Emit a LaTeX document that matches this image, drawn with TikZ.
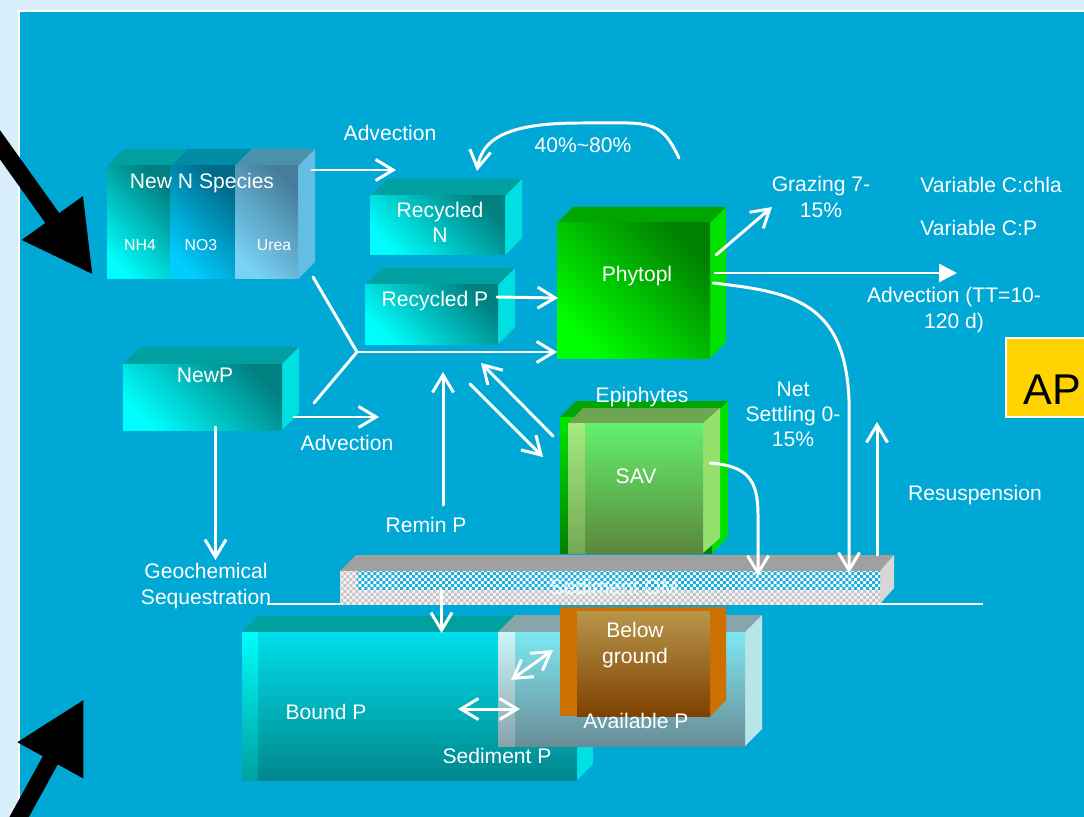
\documentclass[tikz,border=0pt]{standalone}
\usepackage{fontspec}
\setmainfont{Liberation Sans}
\usetikzlibrary{arrows.meta,patterns}

\definecolor{bgout}{RGB}{216,238,251}
\definecolor{bgblue}{RGB}{0,168,214}
\definecolor{cyanlt}{RGB}{0,252,252}
\definecolor{tealdk}{RGB}{0,128,128}
\definecolor{tealtop}{RGB}{0,160,160}
\definecolor{cyanside}{RGB}{0,224,226}
\definecolor{notop}{RGB}{0,140,165}
\definecolor{nodk}{RGB}{0,105,135}
\definecolor{nolt}{RGB}{0,205,255}
\definecolor{ureatop}{RGB}{75,145,170}
\definecolor{ureadk}{RGB}{70,125,155}
\definecolor{urealt}{RGB}{120,210,245}
\definecolor{ureaside}{RGB}{100,190,228}
\definecolor{grdk}{RGB}{0,128,0}
\definecolor{grlt}{RGB}{0,255,0}
\definecolor{grtop}{RGB}{0,165,0}
\definecolor{grside}{RGB}{0,225,0}
\definecolor{savtop}{RGB}{110,165,80}
\definecolor{savlt}{RGB}{100,240,110}
\definecolor{savdk}{RGB}{90,135,60}
\definecolor{savside}{RGB}{150,225,110}
\definecolor{savstrlt}{RGB}{165,235,125}
\definecolor{savstrdk}{RGB}{115,170,85}
\definecolor{slabtop}{RGB}{160,160,160}
\definecolor{slabside}{RGB}{215,215,215}
\definecolor{chkblue}{RGB}{30,175,220}
\definecolor{sedtop}{RGB}{0,222,236}
\definecolor{seddk}{RGB}{0,135,140}
\definecolor{avtop}{RGB}{135,165,170}
\definecolor{avlt}{RGB}{125,232,242}
\definecolor{avdk}{RGB}{105,140,150}
\definecolor{avside}{RGB}{185,228,232}
\definecolor{bgorange}{RGB}{204,112,0}
\definecolor{bglt}{RGB}{185,150,75}
\definecolor{bgdk}{RGB}{125,65,0}
\definecolor{apyellow}{RGB}{255,210,0}

% fine checks for the sediment layer
\pgfdeclarepatternformonly{finechk}{\pgfqpoint{-0.1pt}{-0.1pt}}{\pgfqpoint{3.5pt}{3.5pt}}{\pgfqpoint{3.4pt}{3.4pt}}{%
  \pgfpathrectangle{\pgfqpoint{0pt}{0pt}}{\pgfqpoint{1.7pt}{1.7pt}}%
  \pgfpathrectangle{\pgfqpoint{1.7pt}{1.7pt}}{\pgfqpoint{1.7pt}{1.7pt}}%
  \pgfusepath{fill}}

% 3d box: name, x1, y1, x2, y2, depth, front options, top colour, side colour
\newcommand{\mkcube}[9]{%
  \fill[#8] (#2,#3) -- (#2+#6,#3-#6) -- (#4+#6,#3-#6) -- (#4,#3) -- cycle;
  \fill[#9] (#4,#3) -- (#4+#6,#3-#6) -- (#4+#6,#5-#6) -- (#4,#5) -- cycle;
  \node[front, #7, minimum width={(#4-#2)*0.02cm}, minimum height={(#5-#3)*0.02cm}] (#1) at ({(#2+#4)/2},{(#3+#5)/2}) {};
}

\begin{document}
\begin{tikzpicture}[x=0.02cm, y=-0.02cm,
    txt/.style={text=white, font=\fontsize{12}{14.3}\selectfont, inner sep=0pt, align=center},
    small/.style={text=white, font=\fontsize{9}{11}\selectfont, inner sep=0pt},
    front/.style={rectangle, inner sep=0pt, outer sep=0pt},
    wline/.style={draw=white, line width=1.7pt, line cap=round},
    warr/.style={wline, -{Straight Barb[length=10pt,width=12pt]}},
    dwarr/.style={wline, {Straight Barb[length=10pt,width=12pt]}-{Straight Barb[length=10pt,width=12pt]}},
    bigarr/.style={line width=0.34cm, -{Triangle[length=1.4cm,width=1.4cm]}}]
    \useasboundingbox (0,0) rectangle (1084,817);
    \fill[bgout] (0,0) rectangle (1084,817);
    \fill[bgblue] (19,11) rectangle (1084,817);
    \draw[white, line width=0.6pt] (19,817) -- (19,11) -- (1084,11);
    % big input arrows
    \coordinate (inA) at (-12,128); \coordinate (inB) at (93,275);
    \coordinate (inC) at (12,830); \coordinate (inD) at (84,699);
    \draw[bigarr] (inA) -- (inB);
    \draw[bigarr] (inC) -- (inD);
    % water column boxes
    \mkcube{nh4}{107}{166}{170}{279}{17}{top color=tealdk, bottom color=cyanlt, shading angle=-45}{tealtop}{cyanside}
    \mkcube{no3}{170}{166}{235}{279}{17}{top color=nodk, bottom color=nolt, shading angle=-45}{notop}{nolt}
    \mkcube{urea}{235}{166}{298}{279}{17}{top color=ureadk, bottom color=urealt, shading angle=-45}{ureatop}{ureaside}
    \mkcube{recN}{370}{196}{505}{255}{17}{top color=tealdk, bottom color=cyanlt, shading angle=-45}{tealtop}{cyanside}
    \mkcube{recP}{365}{285}{498}{344}{17}{top color=tealdk, bottom color=cyanlt, shading angle=-45}{tealtop}{cyanside}
    \mkcube{newP}{123}{364}{282}{430}{17}{top color=tealdk, bottom color=cyanlt, shading angle=-45}{tealtop}{cyanside}
    \mkcube{phyto}{557}{223}{710}{358}{16}{top color=grdk, bottom color=grlt, shading angle=-45}{grtop}{grside}
    % SAV with epiphytes
    \mkcube{sav}{560}{417}{712}{553}{16}{top color=grlt!90!black, bottom color=grdk}{grtop}{grside}
    \fill[savtop] (568,423) -- (583,408) -- (720,408) -- (703,423) -- cycle;
    \fill[savside] (703,423) -- (720,408) -- (720,538) -- (703,553) -- cycle;
    \shade[top color=savlt, bottom color=savdk] (568,423) rectangle (703,553);
    \shade[top color=savstrlt, bottom color=savstrdk] (568,423) rectangle (585,553);
    % sediment surface
    \draw[white, line width=0.6pt] (267,604) -- (983,604);
    \fill[slabtop] (340,571) -- (356,555) -- (894,555) -- (880,571) -- cycle;
    \fill[slabside] (880,571) -- (894,555) -- (894,588) -- (880,604) -- cycle;
    \node[front, fill=gray!8, postaction={pattern=finechk, pattern color=gray!45},
      minimum width=10.8cm, minimum height=0.66cm] (slab) at (610,587.5) {};
    \fill[white, postaction={pattern=finechk, pattern color=chkblue}] (357,571) rectangle (880,589);
    % sediment boxes
    \mkcube{sedP}{242}{632}{577}{780}{16}{top color=sedtop, bottom color=seddk}{tealtop}{cyanside}
    \shade[top color=cyanlt, bottom color=tealtop] (242,632) rectangle (258,780);
    \mkcube{availP}{498}{632}{745}{746}{17}{top color=avlt, bottom color=avdk}{avtop}{avside}
    \shade[top color=avlt!40!white, bottom color=avdk!80!white] (498,632) rectangle (515,746);
    \node[front, fill=bgorange, minimum width=3.02cm, minimum height=2.18cm] (below) at (635.5,661.5) {};
    \shade[top color=bglt, bottom color=bgdk] (577,611) rectangle (710,716);
    \fill[bgorange] (711,607) -- (726,607) -- (726,700) -- (711,716) -- cycle;
    % labels
    \node[txt] (tAdvN) at (390,133) {Advection};
    \node[txt] (tLoop) at (583,145) {40\%\textasciitilde80\%};
    \node[txt] (tNewN) at (202,183) {New N Species};
    \node[small] (tNH4) at (140,245) {NH4};
    \node[small] (tNO3) at (201,245) {NO3};
    \node[small] (tUrea) at (274,245) {Urea};
    \node[txt] (tRecN) at (440,222) {Recycled\\N};
    \node[txt] (tRecP) at (435,301) {Recycled P};
    \node[txt] (tPhyto) at (637,276) {Phytopl};
    \node[txt] (tGraz) at (821,197) {Grazing 7-\\15\%};
    \node[txt, anchor=west] (tVarChl) at (920,185) {Variable C:chla};
    \node[txt, anchor=west] (tVarCP) at (920,228) {Variable C:P};
    \node[txt] (tAdvOut) at (954,310) {Advection (TT=10-\\120 d)};
    \node[txt] (tNewP) at (205,375) {NewP};
    \node[txt] (tAdvP) at (347,443) {Advection};
    \node[txt] (tEpi) at (642,397) {Epiphytes};
    \node[txt] (tNet) at (793,414) {Net\\Settling 0-\\15\%};
    \node[txt] (tSAV) at (636,476) {SAV};
    \node[txt] (tResus) at (975,495) {Resuspension};
    \node[txt] (tRemin) at (426,525) {Remin P};
    \node[txt] (tGeo) at (206,586) {Geochemical\\Sequestration};
    \node[txt, opacity=0.75] (tOM) at (614,587) {Sediment OM};
    \node[txt] (tBelow) at (635,645) {Below\\ground};
    \node[txt] (tBound) at (326,712) {Bound P};
    \node[txt] (tAvail) at (636,721) {Available P};
    \node[txt] (tSedP) at (497,756) {Sediment P};
    \fill[apyellow, draw=white, line width=0.6pt] (1006,338) rectangle (1100,417);
    \node[anchor=base west, inner sep=0pt, font=\fontsize{24.5}{28}\selectfont] (tAP) at (1023,404) {AP};
    % free ends
    \coordinate (advNend) at (396,170);
    \coordinate (loopS) at (679,158); \coordinate (loopE) at (477,171);
    \coordinate (join) at (357,352);
    \coordinate (advPend) at (379,417);
    \coordinate (reminS) at (443,505); \coordinate (reminE) at (443,372);
    \coordinate (xA) at (470,384); \coordinate (xB) at (543,457);
    \coordinate (xC) at (553,436); \coordinate (xD) at (481,363);
    \coordinate (grazE) at (772,207);
    \coordinate (advOutE) at (957,273);
    \coordinate (settleE) at (849,573);
    \coordinate (resS) at (877,555); \coordinate (resE) at (877,422);
    \coordinate (savE) at (758,576);
    \coordinate (geoE) at (215.5,560);
    \coordinate (bxA) at (458,709); \coordinate (bxB) at (520,709);
    \coordinate (bxC) at (511,680); \coordinate (bxD) at (553,650);
    % fluxes
    \draw[warr] ([shift={(14,4)}]urea.north east) -- (advNend);
    \draw[warr] (loopS) .. controls (660,118) and (650,123) .. (580,123) .. controls (505,123) and (482,140) .. (loopE);
    \draw[warr] ([shift={(-1,12)}]recP.north east) -- ([shift={(1,75)}]phyto.north west);
    \draw[wline] ([shift={(15,-2)}]urea.south east) -- (join) -- ([shift={(32,39)}]newP.north east);
    \draw[warr] (join) -- (join -| phyto.west);
    \draw[warr] ([shift={(12,-13)}]newP.south east) -- (advPend);
    \draw[warr] (reminS) -- (reminE);
    \draw[warr] (xA) -- (xB);
    \draw[warr] (xC) -- (xD);
    \draw[warr] ([shift={(6,32)}]phyto.north east) -- (grazE);
    \draw[wline, -{Triangle[length=0.36cm,width=0.36cm]}] ([shift={(5,50)}]phyto.north east) -- (advOutE);
    \draw[warr] ([shift={(3,60)}]phyto.north east) .. controls (790,292) and (845,300) .. (849,400) -- (settleE);
    \draw[warr] (resS) -- (resE);
    \draw[warr] ([shift={(-2,46)}]sav.north east) .. controls (748,466) and (758,480) .. (758,515) -- (savE);
    \draw[warr] ([shift={(13,-3)}]newP.south) -- (geoE);
    \draw[warr] ([shift={(32,-42)}]sedP.north) -- ([shift={(32,1)}]sedP.north);
    \draw[dwarr] (bxA) -- (bxB);
    \draw[dwarr] (bxC) -- (bxD);
\end{tikzpicture}
\end{document}
